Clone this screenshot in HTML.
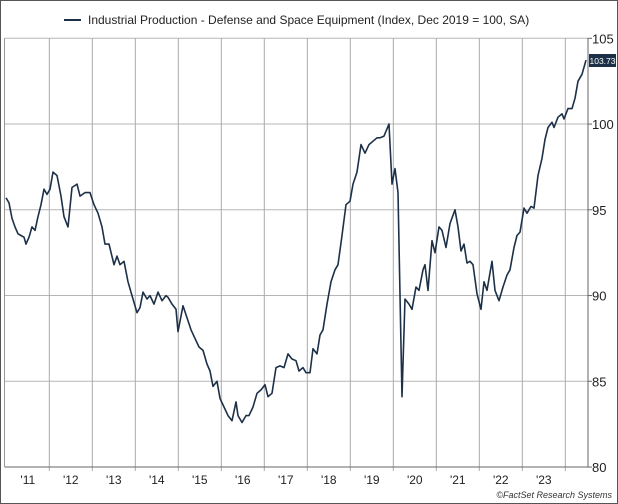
<!DOCTYPE html>
<html><head><meta charset="utf-8"><style>
html,body{margin:0;padding:0;background:#fff;}
svg{display:block;font-family:"Liberation Sans",Arial,sans-serif;}
</style></head><body>
<svg id="s" width="618" height="504" xmlns="http://www.w3.org/2000/svg">
<rect x="0.5" y="0.5" width="617" height="503" fill="#fff" stroke="#555"/>
<g id="grid"></g>
<line x1="64" y1="20" x2="81" y2="20" stroke="#1c3048" stroke-width="2"/>
<text x="88" y="24" font-size="12" fill="#222">Industrial Production - Defense and Space Equipment (Index, Dec 2019 = 100, SA)</text>
<path id="p" fill="none" stroke="#1c3048" stroke-width="1.6" stroke-linejoin="round"/>
<rect x="589" y="54" width="27" height="13" fill="#1c3048"/>
<text x="602.5" y="64" font-size="8.5" fill="#fff" text-anchor="middle">103.73</text>
<text x="612" y="498" font-size="9" font-style="italic" fill="#333" text-anchor="end">©FactSet Research Systems</text>
</svg>
<script>
var Y=function(v){return 38.3+(105-v)*17.15;};
var g=document.getElementById('grid'),h='';
var L=4.5,R=588,B=467;
[105,100,95,90,85].forEach(function(v){var y=Y(v);h+='<line x1="'+L+'" y1="'+y+'" x2="'+R+'" y2="'+y+'" stroke="#b5b5b5"/>';});
for(var i=0;i<=13;i++){var x=6.3+i*43.0;if(i>0)h+='<line x1="'+x+'" y1="'+Y(105)+'" x2="'+x+'" y2="'+(B+4)+'" stroke="#aaa"/>';
 if(i<13)h+='<text x="'+(x+21.5)+'" y="484" font-size="12" fill="#222" text-anchor="middle">\''+(11+i)+'</text>';}
h+='<line x1="'+L+'" y1="'+B+'" x2="'+R+'" y2="'+B+'" stroke="#666"/>';
h+='<line x1="'+L+'" y1="'+Y(105)+'" x2="'+L+'" y2="'+B+'" stroke="#999"/>';
h+='<line x1="'+R+'" y1="'+Y(105)+'" x2="'+R+'" y2="'+B+'" stroke="#666"/>';
[105,100,95,90,85,80].forEach(function(v){var y=Y(v);h+='<line x1="'+R+'" y1="'+y+'" x2="'+(R+4)+'" y2="'+y+'" stroke="#666"/><text x="592" y="'+(y+5)+'" font-size="13" fill="#222">'+v+'</text>';});
g.innerHTML=h;
var d=[[6,95.7],[9,95.4],[12,94.5],[15,94],[18,93.6],[21,93.5],[24,93.4],[26,93],[29,93.4],[32,94],[35,93.8],[38,94.6],[41,95.3],[44,96.2],[47,95.9],[50,96.2],[53,97.2],[57,97],[61,95.8],[64,94.6],[68,94],[72,96.3],[77,96.5],[80,95.8],[85,96],[90,96],[94,95.3],[98,94.8],[102,94],[105,93],[109,93],[114,91.8],[117,92.3],[120,91.8],[124,92],[128,90.8],[132,90],[137,89],[140,89.3],[143,90.2],[147,89.8],[150,90],[154,89.5],[158,90.2],[162,89.7],[166,90],[168,89.9],[172,89.5],[176,89.2],[178,87.9],[183,89.4],[187,88.7],[191,88],[195,87.5],[199,87],[203,86.8],[207,86],[210,85.6],[213,84.7],[217,85],[220,84],[224,83.5],[228,83],[232,82.7],[236,83.8],[238,83],[242,82.6],[246,83],[249,83],[253,83.5],[257,84.3],[261,84.5],[265,84.8],[268,84.1],[272,84.3],[276,85.8],[280,85.9],[284,85.8],[288,86.6],[292,86.3],[296,86.2],[299,85.6],[303,85.8],[306,85.5],[310,85.5],[313,86.9],[317,86.6],[320,87.7],[323,88],[327,89.5],[331,90.8],[335,91.5],[338,91.8],[342,93.5],[346,95.3],[350,95.5],[353,96.5],[357,97.2],[361,98.8],[365,98.3],[369,98.8],[373,99],[377,99.2],[380,99.2],[384,99.3],[389,100],[392,96.5],[395,97.4],[398,96],[402,84.1],[405,89.8],[409,89.5],[412,89.2],[416,90.5],[419,90.3],[423,91.5],[425,91.8],[428,90.3],[432,93.2],[435,92.5],[439,94],[442,93.8],[446,92.8],[450,94.2],[455,95],[458,94],[461,92.6],[464,93],[467,91.9],[470,92],[473,91.8],[477,90.1],[481,89.2],[484,90.8],[487,90.3],[492,92],[495,90.3],[499,89.7],[503,90.5],[507,91.2],[510,91.5],[514,92.8],[517,93.5],[520,93.7],[524,95.1],[527,94.8],[531,95.2],[534,95.1],[538,97],[542,98],[545,99.1],[548,99.8],[552,100.1],[554,99.8],[558,100.4],[562,100.6],[564,100.3],[568,100.9],[572,100.9],[575,101.5],[578,102.5],[582,102.9],[586,103.73]];
document.getElementById('p').setAttribute('d',d.map(function(p,i){return (i?'L':'M')+p[0]+','+Y(p[1]).toFixed(1);}).join(''));
</script>
</body></html>
